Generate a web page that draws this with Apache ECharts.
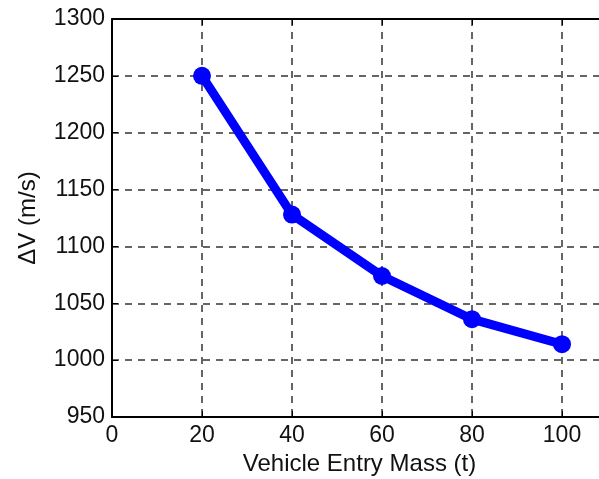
<!DOCTYPE html>
<html>
<head>
<meta charset="utf-8">
<script src="https://cdn.jsdelivr.net/npm/echarts@6/dist/echarts.min.js"></script>
<style>
html,body{margin:0;padding:0;background:#fff;}
#chart{width:599px;height:479px;}
</style>
</head>
<body>
<div id="chart"></div>
<script>
var massT = [20, 40, 60, 80, 100];
var deltaV = [1250, 1128, 1074, 1036, 1014];

var xTicks = {min: 0, max: 110, interval: 20};
var yTicks = {min: 950, max: 1300, interval: 50};

var myChart = echarts.init(document.getElementById('chart'));
var points = [];
for (var i = 0; i < massT.length; i++) {
	points.push([massT[i], deltaV[i]]);
}
var font = 'Liberation Sans, Arial, sans-serif';
var option = {
	animation: false,
	backgroundColor: '#fff',
	grid: {
		left: 112, top: 19, width: 495, height: 398,
		outerBoundsMode: 'none',
		show: false
	},
	xAxis: [{
		type: 'value',
		min: xTicks.min, max: xTicks.max, interval: xTicks.interval,
		name: 'Vehicle Entry Mass (t)',
		nameLocation: 'middle',
		nameGap: 29,
		nameTextStyle: {color: '#111', fontSize: 24, fontFamily: font},
		axisLine: {show: true, lineStyle: {color: '#000', width: 2}},
		axisTick: {show: true, inside: true, length: 6, lineStyle: {color: '#000'}},
		axisLabel: {color: '#111', fontSize: 23, fontFamily: font, margin: 7, showMaxLabel: false},
		splitLine: {show: true, showMaxLine: false, lineStyle: {color: '#333', type: [7, 6], width: 1.5}}
	}, {
		// top frame line
		type: 'value', position: 'top',
		min: xTicks.min, max: xTicks.max, interval: xTicks.interval,
		axisLine: {show: true, onZero: false, lineStyle: {color: '#000', width: 2}},
		axisTick: {show: true, inside: true, length: 6, lineStyle: {color: '#000'}},
		axisLabel: {show: false},
		splitLine: {show: false}
	}],
	yAxis: {
		type: 'value',
		min: yTicks.min, max: yTicks.max, interval: yTicks.interval,
		name: '\u0394V (m/s)',
		nameLocation: 'middle',
		nameGap: 72,
		nameTextStyle: {color: '#111', fontSize: 24, fontFamily: font},
		axisLine: {show: true, lineStyle: {color: '#000', width: 2}},
		axisTick: {show: true, inside: true, length: 6, lineStyle: {color: '#000'}},
		axisLabel: {
			color: '#111', fontSize: 23, fontFamily: font, margin: 7,
			formatter: function(v) { return '' + v; }
		},
		splitLine: {show: true, lineStyle: {color: '#333', type: [7, 6], width: 1.5}}
	},
	series: [{
		type: 'line',
		data: points,
		symbol: 'circle',
		symbolSize: 18,
		itemStyle: {color: '#0000ff'},
		lineStyle: {color: '#0000ff', width: 9}
	}]
};
myChart.setOption(option);
</script>
</body>
</html>
